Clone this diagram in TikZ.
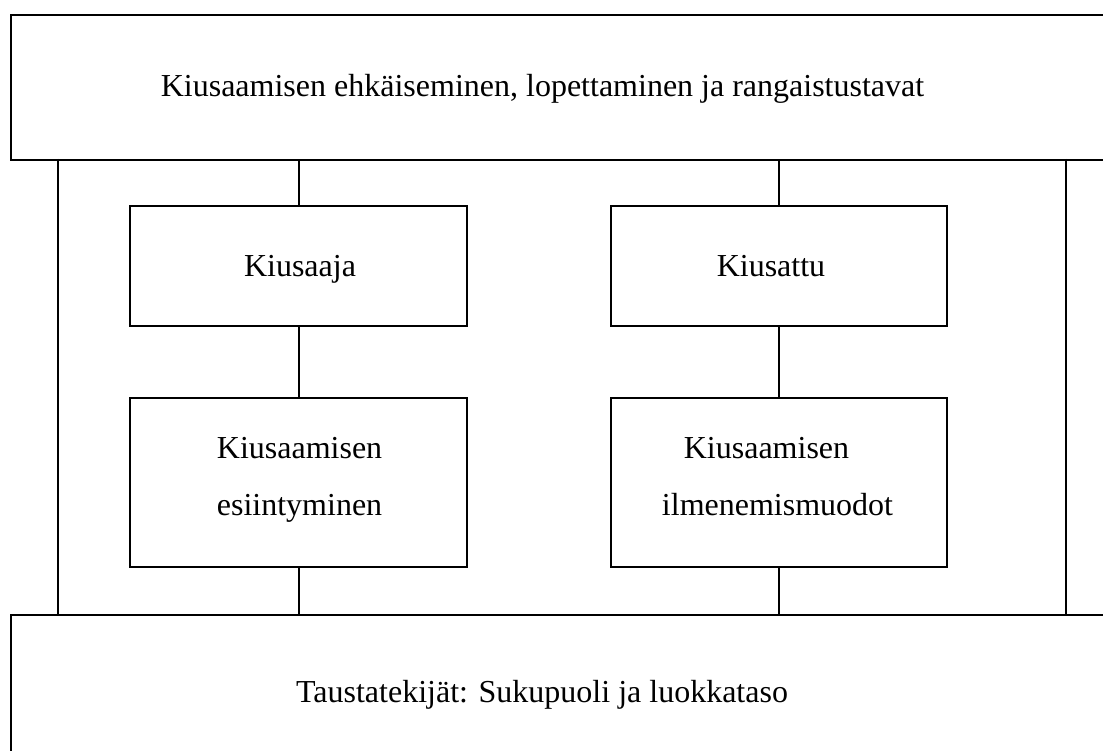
\documentclass[tikz,border=0pt]{standalone}
\usepackage{fontspec}
\setmainfont{Liberation Serif}
\begin{document}
\begin{tikzpicture}[x=1pt,y=-1pt,line width=1.8pt,
  box/.style={draw,rectangle,inner sep=0pt},
  lbl/.style={font=\fontsize{32}{57}\selectfont,inner sep=0pt}]
\useasboundingbox (0,0) rectangle (1103,751);
\clip (0,0) rectangle (1103,751);
\fill[white] (0,0) rectangle (1103,751);
% top and bottom frames
\node[box,anchor=north west,minimum width=1110pt,minimum height=145pt] (top) at (10,14) {};
\node[box,anchor=north west,minimum width=1110pt,minimum height=150pt] (bot) at (10,614) {};
\node[lbl,anchor=base] (toptext) at (542.5,97) {Kiusaamisen ehkäiseminen, lopettaminen ja rangaistustavat};
\node[lbl,anchor=base] (bottext) at (542,702) {Taustatekijät: Sukupuoli ja luokkataso};
% inner boxes
\node[box,minimum width=337pt,minimum height=120pt] (kj) at (298.7,266) {};
\node[box,minimum width=336pt,minimum height=120pt] (kt) at (778.7,266) {};
\node[box,minimum width=337pt,minimum height=169pt] (ke) at (298.7,482.5) {};
\node[box,minimum width=336pt,minimum height=169pt] (ki) at (778.7,482.5) {};
\node[lbl,anchor=base] (kjt) at (300,277) {Kiusaaja};
\node[lbl,anchor=base] (ktt) at (771,277) {Kiusattu};
\node[lbl,anchor=base west] (ket1) at (216,458) {Kiusaamisen};
\node[lbl,anchor=base west] (ket2) at (216,515) {esiintyminen};
\node[lbl,anchor=base] (kit1) at (766.5,458) {Kiusaamisen};
\node[lbl,anchor=base] (kit2) at (777.5,515) {ilmenemismuodot};
% connectors
\coordinate (tl) at (58,159);
\coordinate (bl) at (58,614);
\coordinate (tr) at (1066,159);
\coordinate (br) at (1066,614);
\draw (tl) -- (bl);
\draw (tr) -- (br);
\draw (top.south -| kj.north) -- (kj.north);
\draw (kj.south) -- (ke.north);
\draw (ke.south) -- (bot.north -| ke.south);
\draw (top.south -| kt.north) -- (kt.north);
\draw (kt.south) -- (ki.north);
\draw (ki.south) -- (bot.north -| ki.south);
\end{tikzpicture}
\end{document}
